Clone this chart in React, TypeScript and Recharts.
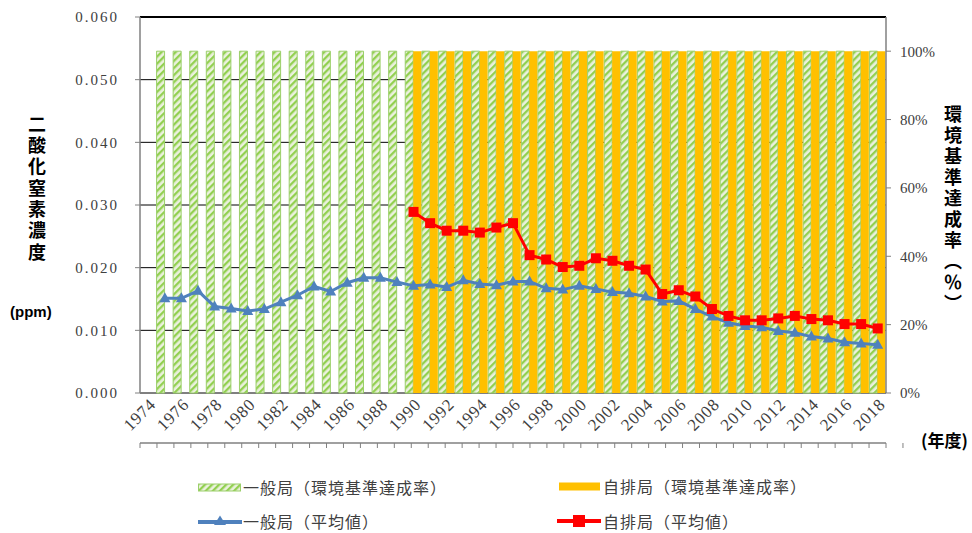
import React from 'react';
import { ComposedChart, Bar, Line, XAxis, YAxis, CartesianGrid, ReferenceLine } from 'recharts';

const years = [
  '1974', '1975', '1976', '1977', '1978', '1979', '1980', '1981', '1982', '1983',
  '1984', '1985', '1986', '1987', '1988', '1989', '1990', '1991', '1992', '1993',
  '1994', '1995', '1996', '1997', '1998', '1999', '2000', '2001', '2002', '2003',
  '2004', '2005', '2006', '2007', '2008', '2009', '2010', '2011', '2012', '2013',
  '2014', '2015', '2016', '2017', '2018',
];

// 一般局（環境基準達成率）%
const generalRate = [
  null, 100, 100, 100, 100, 100, 100, 100, 100, 100,
  100, 100, 100, 100, 100, 100, 100, 100, 100, 100,
  100, 100, 100, 100, 100, 100, 100, 100, 100, 100,
  100, 100, 100, 100, 100, 100, 100, 100, 100, 100,
  100, 100, 100, 100, 100,
];

// 自排局（環境基準達成率）%
const roadsideRate = [
  null, null, null, null, null, null, null, null, null, null,
  null, null, null, null, null, null, 100, 100, 100, 100,
  100, 100, 100, 100, 100, 100, 100, 100, 100, 100,
  100, 100, 100, 100, 100, 100, 100, 100, 100, 100,
  100, 100, 100, 100, 100,
];

// 一般局（平均値）ppm
const generalAvg = [
  null, 0.0151, 0.0151, 0.0163, 0.0138, 0.0135, 0.0131, 0.0134, 0.0145, 0.0156,
  0.0170, 0.0162, 0.0176, 0.0184, 0.0184, 0.0177, 0.0171, 0.0173, 0.0169, 0.0180,
  0.0174, 0.0172, 0.0178, 0.0178, 0.0167, 0.0165, 0.0171, 0.0166, 0.0161, 0.0159,
  0.0154, 0.0146, 0.0147, 0.0134, 0.0122, 0.0112, 0.0107, 0.0105, 0.0099, 0.0096,
  0.0090, 0.0087, 0.0081, 0.0079, 0.0077,
];

// 自排局（平均値）ppm
const roadsideAvg = [
  null, null, null, null, null, null, null, null, null, null,
  null, null, null, null, null, null, 0.0289, 0.0271, 0.0259, 0.0259,
  0.0256, 0.0264, 0.0271, 0.0220, 0.0213, 0.0201, 0.0203, 0.0215, 0.0211, 0.0203,
  0.0197, 0.0158, 0.0164, 0.0154, 0.0134, 0.0123, 0.0116, 0.0116, 0.0119, 0.0123,
  0.0118, 0.0116, 0.0110, 0.0110, 0.0103,
];

const leftTicks = [0, 0.01, 0.02, 0.03, 0.04, 0.05, 0.06];
const rightTicks = [0, 20, 40, 60, 80, 100];
const boundaryTicks = Array.from({ length: years.length + 1 }, (_, i) => i);

const data = years.map((y, i) => ({
  year: y,
  general: generalRate[i],
  roadside: roadsideRate[i],
  generalAvg: generalAvg[i],
  roadsideAvg: roadsideAvg[i],
}));

const BLUE = '#4F81BD';
const RED = '#FF0000';
const ORANGE = '#FFC000';
const GREEN_STROKE = '#9BCF6A';
const AXIS_GRAY = '#808080';
const TEXT = '#404040';

const serif = '"Liberation Serif", "DejaVu Serif", serif';
const cjk = '"Noto Sans CJK JP", "Noto Sans", sans-serif';

const TriangleDot = (p: any) => {
  const { cx, cy, index, value } = p;
  if (cx == null || cy == null || value == null) return <g key={`t${index}`} />;
  return (
    <polygon
      key={`t${index}`}
      points={`${cx},${cy - 6} ${cx + 5.5},${cy + 4} ${cx - 5.5},${cy + 4}`}
      fill={BLUE}
    />
  );
};

const SquareDot = (p: any) => {
  const { cx, cy, index, value } = p;
  if (cx == null || cy == null || value == null) return <g key={`s${index}`} />;
  return <rect key={`s${index}`} x={cx - 5} y={cy - 5} width={10} height={10} fill={RED} />;
};

const HatchSwatch = () => (
  <svg width={43} height={9} style={{ display: 'block' }}>
    <defs>
      <pattern id="hatchLegend" patternUnits="userSpaceOnUse" width="5" height="5" patternTransform="rotate(45)">
        <rect width="5" height="5" fill="#EBF1DE" />
        <rect x="0" y="0" width="2.3" height="5" fill="#92D050" />
      </pattern>
    </defs>
    <rect x={0.5} y={1} width={42} height={7} fill="url(#hatchLegend)" stroke={GREEN_STROKE} strokeWidth={1} />
  </svg>
);

const OrangeSwatch = () => (
  <svg width={43} height={9} style={{ display: 'block' }}>
    <rect x={0} y={0.5} width={41} height={8} fill={ORANGE} />
  </svg>
);

const BlueLineSwatch = () => (
  <svg width={44} height={14} style={{ display: 'block' }}>
    <line x1={0} y1={8} x2={44} y2={8} stroke={BLUE} strokeWidth={4} />
    <polygon points="22,1.5 28,11 16,11" fill={BLUE} />
  </svg>
);

const RedLineSwatch = () => (
  <svg width={44} height={14} style={{ display: 'block' }}>
    <line x1={0} y1={7} x2={44} y2={7} stroke={RED} strokeWidth={4} />
    <rect x={16} y={1} width={12} height={12} fill={RED} />
  </svg>
);

const legendText: React.CSSProperties = {
  fontFamily: cjk,
  fontSize: 16,
  letterSpacing: 1,
  color: TEXT,
  lineHeight: '16px',
  whiteSpace: 'nowrap',
};

export default function App() {
  return (
    <div style={{ position: 'absolute', left: 0, top: 0, width: 972, height: 533, background: '#fff', overflow: 'hidden' }}>
      <ComposedChart
        width={972}
        height={533}
        data={data}
        margin={{ top: 17, right: 0, bottom: 84, left: 0 }}
        barCategoryGap={0}
        barGap={0}
      >
        <defs>
          <pattern id="hatch" patternUnits="userSpaceOnUse" width="5" height="5" patternTransform="rotate(45)">
            <rect width="5" height="5" fill="#EBF1DE" />
            <rect x="0" y="0" width="2.3" height="5" fill="#92D050" />
          </pattern>
        </defs>
        <CartesianGrid vertical={false} stroke="#000" strokeWidth={1} yAxisId="left" xAxisId="cat" />
        <XAxis
          xAxisId="ticks"
          type="number"
          domain={[0, years.length]}
          allowDataOverflow
          ticks={boundaryTicks}
          interval={0}
          height={6}
          tickSize={5}
          tick={() => <g />}
          axisLine={{ stroke: AXIS_GRAY, strokeWidth: 1.5 }}
          tickLine={{ stroke: AXIS_GRAY, strokeWidth: 1 }}
        />
        <XAxis
          xAxisId="cat"
          dataKey="year"
          interval={1}
          height={50}
          axisLine={false}
          tickLine={false}
          tickSize={0}
          tickMargin={4}
          angle={-45}
          textAnchor="end"
          tick={{ fill: TEXT, fontSize: 17, fontFamily: serif, letterSpacing: 0.8 }}
        />
        <YAxis
          yAxisId="left"
          width={140}
          domain={[0, 0.06]}
          ticks={leftTicks}
          interval={0}
          tickFormatter={(v: number) => v.toFixed(3)}
          tickSize={5}
          tickMargin={16}
          axisLine={{ stroke: AXIS_GRAY, strokeWidth: 1.5 }}
          tickLine={{ stroke: AXIS_GRAY, strokeWidth: 1 }}
          tick={{ fill: TEXT, fontSize: 15, fontFamily: serif, letterSpacing: 2 }}
        />
        <YAxis
          yAxisId="right"
          orientation="right"
          width={86}
          domain={[0, 110]}
          ticks={rightTicks}
          interval={0}
          tickFormatter={(v: number) => `${v}%`}
          tickSize={5}
          tickMargin={9}
          axisLine={{ stroke: AXIS_GRAY, strokeWidth: 1.5 }}
          tickLine={{ stroke: AXIS_GRAY, strokeWidth: 1 }}
          tick={{ fill: TEXT, fontSize: 15, fontFamily: serif, textAnchor: 'start' }}
        />
        <Bar
          xAxisId="cat"
          yAxisId="right"
          dataKey="general"
          fill="url(#hatch)"
          stroke={GREEN_STROKE}
          strokeWidth={1}
          isAnimationActive={false}
        />
        <Bar
          xAxisId="cat"
          yAxisId="right"
          dataKey="roadside"
          fill={ORANGE}
          isAnimationActive={false}
        />
        <ReferenceLine xAxisId="cat" yAxisId="left" y={0.06} stroke="#000" strokeWidth={2} />
        <Line
          xAxisId="cat"
          yAxisId="left"
          type="linear"
          dataKey="generalAvg"
          stroke={BLUE}
          strokeWidth={3}
          dot={TriangleDot}
          activeDot={false}
          isAnimationActive={false}
        />
        <Line
          xAxisId="cat"
          yAxisId="left"
          type="linear"
          dataKey="roadsideAvg"
          stroke={RED}
          strokeWidth={3}
          dot={SquareDot}
          activeDot={false}
          isAnimationActive={false}
        />
      </ComposedChart>

      {/* Left axis title */}
      <div
        style={{
          position: 'absolute',
          left: 27,
          top: 115,
          writingMode: 'vertical-rl',
          fontFamily: cjk,
          fontWeight: 700,
          fontSize: 18,
          letterSpacing: 3.3,
          color: '#000',
          lineHeight: '20px',
        }}
      >
        二酸化窒素濃度
      </div>
      <div
        style={{
          position: 'absolute',
          left: 10,
          top: 302,
          fontFamily: '"Liberation Sans", Arial, sans-serif',
          fontWeight: 700,
          fontSize: 15,
          color: '#000',
          lineHeight: '20px',
        }}
      >
        (ppm)
      </div>

      {/* Right axis title */}
      <div
        style={{
          position: 'absolute',
          left: 943,
          top: 105,
          writingMode: 'vertical-rl',
          fontFamily: cjk,
          fontWeight: 700,
          fontSize: 18,
          letterSpacing: 3,
          color: '#000',
          lineHeight: '20px',
        }}
      >
        環境基準達成率（％）
      </div>
      <div
        style={{
          position: 'absolute',
          left: 921,
          top: 429,
          fontFamily: cjk,
          fontWeight: 700,
          fontSize: 17,
          color: '#000',
          lineHeight: '22px',
          whiteSpace: 'nowrap',
        }}
      >
        (年度)
      </div>

      {/* Legend */}
      <div style={{ position: 'absolute', left: 198, top: 479, display: 'flex', alignItems: 'center' }}>
        <HatchSwatch />
        <span style={{ ...legendText, marginLeft: 2 }}>一般局（環境基準達成率）</span>
      </div>
      <div style={{ position: 'absolute', left: 559, top: 478, display: 'flex', alignItems: 'center' }}>
        <OrangeSwatch />
        <span style={{ ...legendText, marginLeft: 1 }}>自排局（環境基準達成率）</span>
      </div>
      <div style={{ position: 'absolute', left: 198, top: 513, display: 'flex', alignItems: 'center' }}>
        <BlueLineSwatch />
        <span style={{ ...legendText, marginLeft: 1 }}>一般局（平均値）</span>
      </div>
      <div style={{ position: 'absolute', left: 557, top: 513, display: 'flex', alignItems: 'center' }}>
        <RedLineSwatch />
        <span style={{ ...legendText, marginLeft: 2 }}>自排局（平均値）</span>
      </div>
    </div>
  );
}
